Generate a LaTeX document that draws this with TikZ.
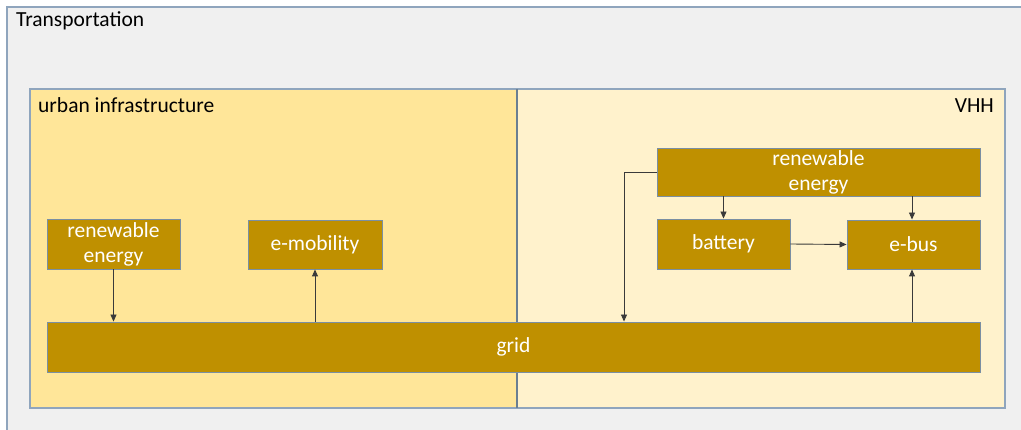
\documentclass[tikz,border=0pt]{standalone}
\usepackage{fontspec}
\setmainfont{Carlito}
\usetikzlibrary{arrows.meta}
\definecolor{outerbg}{HTML}{F0F0F0}
\definecolor{frame}{HTML}{8FA5BD}
\definecolor{divider}{HTML}{6A7F92}
\definecolor{urbanbg}{HTML}{FFE699}
\definecolor{vhhbg}{HTML}{FFF2CC}
\definecolor{boxfill}{HTML}{BF9000}
\definecolor{boxline}{HTML}{7A8FA3}
\definecolor{conn}{HTML}{3A3A3A}
\tikzset{
  blk/.style={draw=boxline, line width=0.9pt, fill=boxfill, text=white, align=center,
    inner sep=0pt, font=\fontsize{21.5}{25}\selectfont},
  flow/.style={draw=conn, line width=0.9pt, -{Triangle[length=7pt,width=6pt]}},
  lbl/.style={inner sep=0pt, font=\fontsize{21.5}{25}\selectfont, text=black}
}
\begin{document}
\begin{tikzpicture}[x=1pt,y=-1pt]
\useasboundingbox (0,0) rectangle (1021,430);
\fill[white] (0,0) rectangle (1021,430);
% outer container
\fill[outerbg] (7,7) rectangle (1021,430);
\draw[frame, line width=1.2pt] (7,431) -- (7,7) -- (1022,7);
\node[lbl, anchor=base west] (trans) at (16,27) {Transportation};
% urban infrastructure and VHH
\draw[frame, line width=1.2pt, fill=urbanbg] (30,89) rectangle (517,408);
\draw[frame, line width=1.2pt, fill=vhhbg] (517,89) rectangle (1005,408);
\draw[divider, line width=1.2pt] (517,89) -- (517,408);
\node[lbl, anchor=base west] (urban) at (38,113) {urban infrastructure};
\node[lbl, anchor=base east] (vhh) at (994,113) {VHH};
% blocks
\node[blk, minimum width=133pt, minimum height=50pt] (renL) at (113.5,244) {renewable\\energy};
\node[blk, minimum width=134pt, minimum height=49pt] (emob) at (315,244.5) {e-mobility};
\node[blk, minimum width=933pt, minimum height=50pt] (grid) at (513.5,347) {grid};
\node[blk, minimum width=323pt, minimum height=48pt] (renR) at (818.5,172) {renewable\\energy};
\node[blk, minimum width=133pt, minimum height=50pt] (bat) at (723.5,244) {battery};
\node[blk, minimum width=133pt, minimum height=49pt] (ebus) at (913.5,244.5) {e-bus};
\coordinate (corner) at (624,172);
% connectors
\draw[flow] (renL.south) -- (renL.south |- grid.north);
\draw[flow] (grid.north -| emob.south) -- (emob.south);
\draw[flow] (renR.west) -- (corner) -- (corner |- grid.north);
\draw[flow] (renR.south -| bat.north) -- (bat.north);
\draw[flow] ([xshift=-1.5pt]renR.south -| ebus.north) -- ([xshift=-1.5pt]ebus.north);
\draw[flow] (bat.east) -- (ebus.west);
\draw[flow] ([xshift=-1.5pt]grid.north -| ebus.south) -- ([xshift=-1.5pt]ebus.south);
\end{tikzpicture}
\end{document}
